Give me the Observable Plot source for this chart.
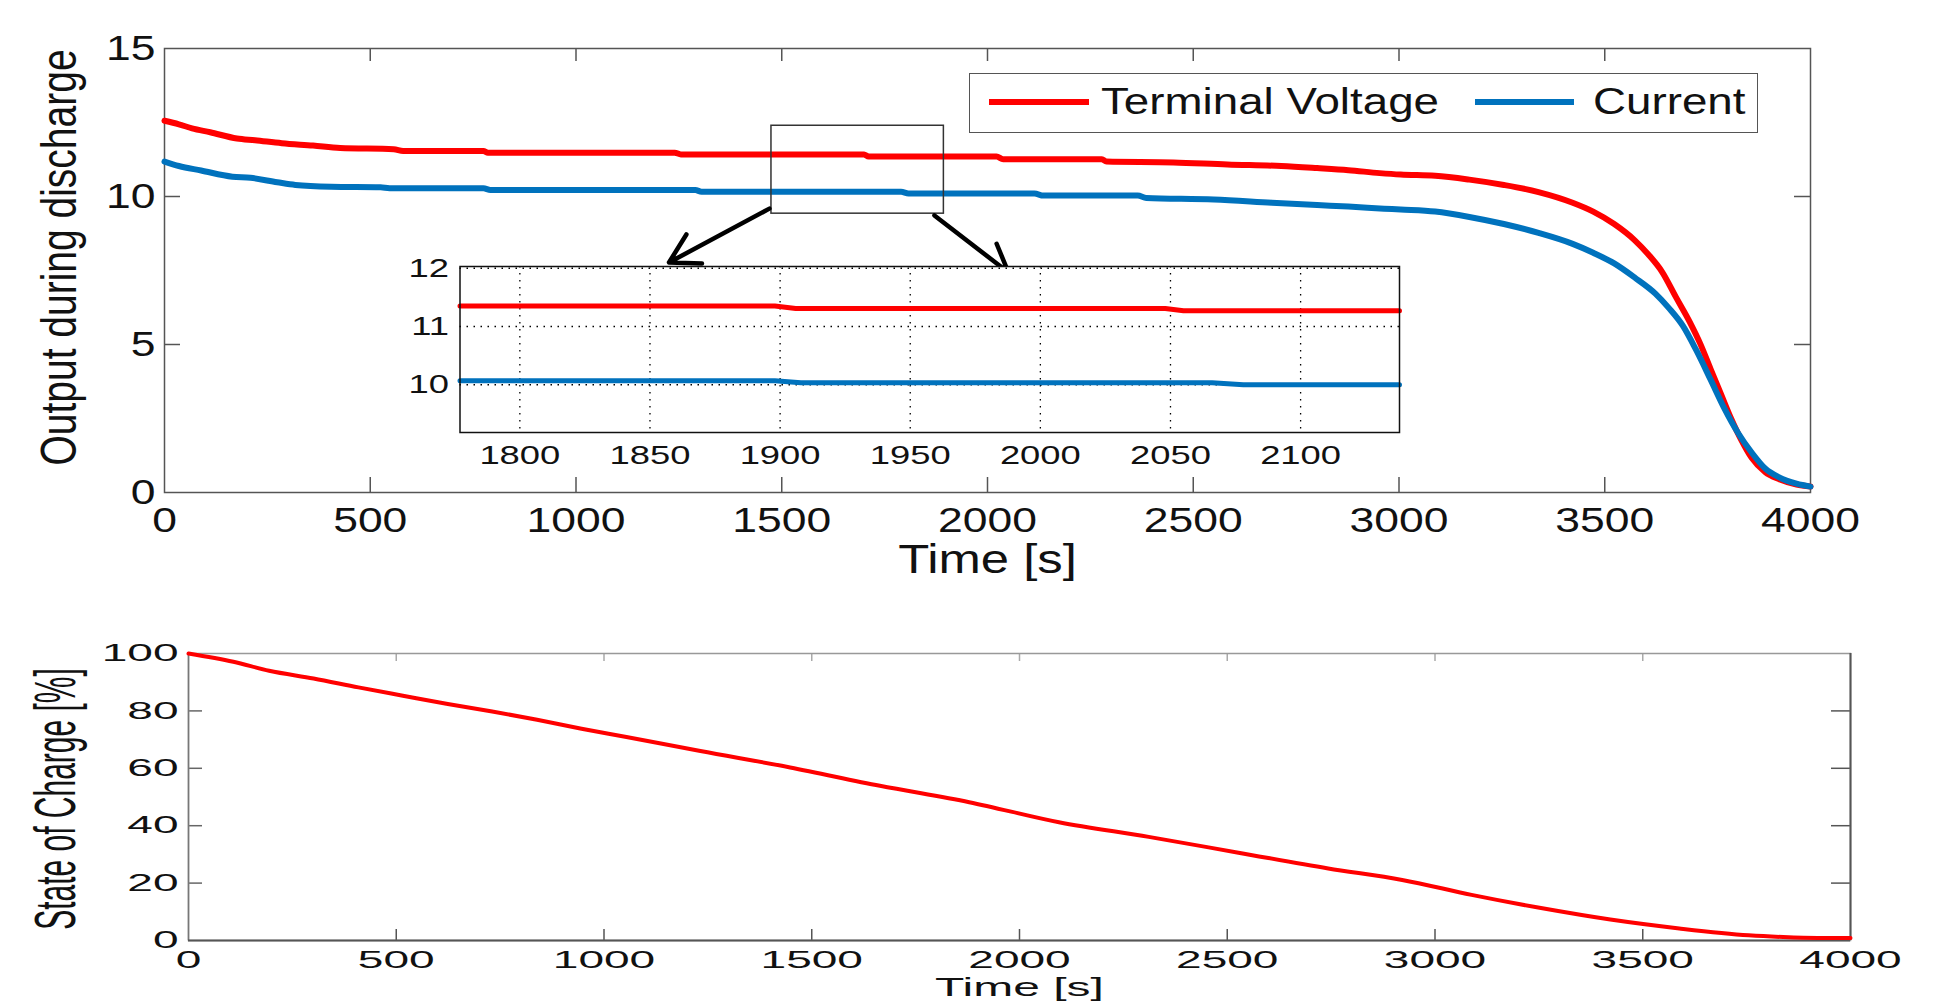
<!DOCTYPE html>
<html><head><meta charset="utf-8">
<script src="https://cdn.jsdelivr.net/npm/d3@7"></script>
<script src="https://cdn.jsdelivr.net/npm/@observablehq/plot@0.6"></script>
<style>
html,body{margin:0;padding:0;background:#fff;}
#root{position:relative;width:1945px;height:1005px;overflow:hidden;background:#fff;font-family:"Liberation Sans",Arial,sans-serif;}
#root svg{position:absolute;}
.lg{position:absolute;}
</style></head><body><div id="root"></div>
<script>
// ---------- data ----------
const voltTime  = [0,35,67,111,176,220,285,361,427,557,580,775,786,1240,1255,1700,1711,2022,2038,2278,2289,2452,2583,2714,2801,2877,2953,3004,3088,3171,3255,3339,3422,3472,3523,3573,3606,3640,3673,3707,3732,3757,3782,3807,3832,3857,3890,3924,3966,4000];
const voltValue = [12.56,12.44,12.30,12.17,11.96,11.90,11.80,11.72,11.64,11.60,11.54,11.54,11.48,11.48,11.42,11.42,11.35,11.35,11.26,11.26,11.18,11.15,11.08,11.03,10.96,10.89,10.79,10.74,10.70,10.57,10.39,10.15,9.79,9.49,9.07,8.52,8.04,7.44,6.60,5.75,5.03,4.18,3.34,2.50,1.77,1.17,0.69,0.45,0.27,0.20];
const currTime  = [0,35,89,165,209,274,318,405,525,547,775,792,1290,1305,1790,1808,2114,2136,2365,2386,2550,2691,2801,2877,2964,3004,3088,3171,3255,3339,3422,3472,3523,3573,3623,3656,3690,3723,3757,3790,3824,3857,3890,3924,3966,4000];
const currValue = [11.18,11.03,10.88,10.67,10.63,10.48,10.39,10.33,10.31,10.28,10.28,10.22,10.22,10.16,10.16,10.10,10.10,10.03,10.03,9.95,9.90,9.79,9.71,9.66,9.59,9.56,9.49,9.31,9.07,8.77,8.40,8.10,7.74,7.26,6.72,6.23,5.63,4.79,3.82,2.86,2.01,1.35,0.81,0.51,0.30,0.20];

const insetVoltTime  = [1777,1898,1906,2048,2055,2138];
const insetVoltValue = [11.35,11.35,11.31,11.31,11.27,11.27];
const insetCurrTime  = [1777,1898,1908,2066,2078,2138];
const insetCurrValue = [10.07,10.07,10.035,10.035,10.0,10.0];

const socTime  = [0,108,194,301,409,516,624,731,839,946,1054,1232,1448,1664,1879,2095,2311,2527,2743,2921,3088,3255,3422,3588,3755,3838,3921,4000];
const socValue = [100,97.1,94.0,91.3,88.2,85.3,82.4,79.8,76.9,73.8,70.9,66.0,60.3,53.9,48.2,41.2,36.1,30.6,25.1,21.1,15.9,11.3,7.3,4.2,1.8,1.2,0.9,0.9];

const timeTicks   = [0,500,1000,1500,2000,2500,3000,3500,4000];
const topYTicks   = [0,5,10,15];
const socYTicks   = [0,20,40,60,80,100];
const insetXTicks = [1800,1850,1900,1950,2000,2050,2100];
const insetYTicks = [10,11,12];

const seriesNames = ["Terminal Voltage","Current"];
const seriesColors = ["#ff0000","#0072bd"];

// zoom box and arrows (data coordinates of the top panel)
const zoomBoxX = [1475,1894];
const zoomBoxY = [9.42,12.39];
const arrowFromX = [1470,1871], arrowFromY = [9.59,9.36];
const arrowToX   = [1226,2051], arrowToY   = [7.77,7.43];

// ---------- helpers ----------
function stretch(svg, s) {
  svg.querySelectorAll("text").forEach(t => {
    const tr = t.getAttribute("transform") || "";
    if (/rotate\(-?90\)/.test(tr)) t.setAttribute("transform", tr + ` scale(1,${s})`);
    else t.setAttribute("transform", tr + ` scale(${s},1)`);
  });
}
const FONT = "Liberation Sans, Arial, sans-serif";
const root = document.getElementById("root");

// ---------- top panel ----------
const volt = voltTime.map((t,i)=>({t, v: voltValue[i]}));
const curr = currTime.map((t,i)=>({t, v: currValue[i]}));
const tk = (px, span, len) => span * px / len; // pixel length -> data length
const topW = 1945, topH = 600, tML = 164, tMR = 135, tMT = 48, tMB = 108;
const tPW = topW - tML - tMR, tPH = topH - tMT - tMB;
const innerX = timeTicks.slice(1,-1), innerY = topYTicks.slice(1,-1);
const arrows = arrowFromX.map((x,i)=>({x1:x,y1:arrowFromY[i],x2:arrowToX[i],y2:arrowToY[i]}));

const topPlot = Plot.plot({
  width: topW, height: topH,
  marginLeft: tML, marginRight: tMR, marginTop: tMT, marginBottom: tMB,
  x: {domain: [0,4000]}, y: {domain: [0,15]},
  style: {fontFamily: FONT, background: "transparent", color: "#111"},
  marks: [
    Plot.ruleX(innerX, {x: d=>d, y1: 0, y2: tk(15,15,tPH), stroke: "#555", strokeWidth: 1.5}),
    Plot.ruleX(innerX, {x: d=>d, y1: 15, y2: 15 - tk(13,15,tPH), stroke: "#555", strokeWidth: 1.5}),
    Plot.ruleY(innerY, {y: d=>d, x1: 0, x2: tk(16,4000,tPW), stroke: "#555", strokeWidth: 1.5}),
    Plot.ruleY(innerY, {y: d=>d, x1: 4000, x2: 4000 - tk(16,4000,tPW), stroke: "#555", strokeWidth: 1.5}),
    Plot.frame({stroke: "#555", strokeWidth: 1.5}),
    Plot.line(volt, {x: "t", y: "v", stroke: seriesColors[0], strokeWidth: 6, curve: "monotone-x"}),
    Plot.line(curr, {x: "t", y: "v", stroke: seriesColors[1], strokeWidth: 6, curve: "monotone-x"}),
    Plot.rect([0], {x1: zoomBoxX[0], x2: zoomBoxX[1], y1: zoomBoxY[0], y2: zoomBoxY[1], fill: "none", stroke: "#333", strokeWidth: 1.5}),
    Plot.arrow(arrows, {x1: "x1", y1: "y1", x2: "x2", y2: "y2", stroke: "#000", strokeWidth: 4.5, headLength: 11, headAngle: 60}),
    Plot.axisX({ticks: timeTicks, tickSize: 0, tickPadding: 15, fontSize: 35, label: null, tickFormat: d=>String(d)}),
    Plot.axisY({ticks: topYTicks, tickSize: 0, tickPadding: 9, fontSize: 35, label: null, tickFormat: d=>String(d)}),
    Plot.text(["Time [s]"], {text: d=>d, frameAnchor: "bottom", textAnchor: "middle", lineAnchor: "top", dy: 52, fontSize: 40, fill: "#111"}),
    Plot.text(["Output during discharge"], {text: d=>d, frameAnchor: "left", textAnchor: "middle", rotate: -90, dx: -104, dy: -13, lineAnchor: "middle", fontSize: 39, fill: "#111"})
  ]
});
topPlot.style.left = "0px"; topPlot.style.top = "0px";
stretch(topPlot, 1.27);
root.appendChild(topPlot);

// ---------- inset ----------
const iVolt = insetVoltTime.map((t,i)=>({t, v: insetVoltValue[i]}));
const iCurr = insetCurrTime.map((t,i)=>({t, v: insetCurrValue[i]}));
const inset = Plot.plot({
  width: 1040, height: 240,
  marginLeft: 79.5, marginRight: 21, marginTop: 16, marginBottom: 58,
  x: {domain: [1777,2138]}, y: {domain: [9.18,12.03]},
  style: {fontFamily: FONT, background: "transparent", color: "#111"},
  marks: [
    Plot.frame({fill: "white", stroke: "none"}),
    Plot.ruleX(insetXTicks, {x: d=>d, stroke: "#000", strokeWidth: 1.3, strokeDasharray: "1.5,5.5"}),
    Plot.ruleY(insetYTicks, {y: d=>d, stroke: "#000", strokeWidth: 1.3, strokeDasharray: "1.5,5.5"}),
    Plot.line(iVolt, {x: "t", y: "v", stroke: seriesColors[0], strokeWidth: 5}),
    Plot.line(iCurr, {x: "t", y: "v", stroke: seriesColors[1], strokeWidth: 5}),
    Plot.frame({stroke: "#111", strokeWidth: 1.5}),
    Plot.axisX({ticks: insetXTicks, tickSize: 0, tickPadding: 13, fontSize: 26, label: null, tickFormat: d=>String(d)}),
    Plot.axisY({ticks: insetYTicks, tickSize: 0, tickPadding: 11, fontSize: 26, label: null, tickFormat: d=>String(d)})
  ]
});
inset.style.left = "380px"; inset.style.top = "250px";
stretch(inset, 1.4);
root.appendChild(inset);

// ---------- legend ----------
function addDiv(style, text) {
  const d = document.createElement("div");
  d.className = "lg";
  Object.assign(d.style, style);
  if (text) d.textContent = text;
  root.appendChild(d);
  return d;
}
addDiv({left: "969px", top: "73px", width: "787px", height: "58px", border: "1.5px solid #555", background: "#fff"});
const lgX = [[989,1089,1101],[1475,1574,1593]];
seriesNames.forEach((name,i) => {
  addDiv({left: lgX[i][0]+"px", top: "99px", width: (lgX[i][1]-lgX[i][0])+"px", height: "6px", background: seriesColors[i]});
  addDiv({left: lgX[i][2]+"px", top: "78px", fontSize: "36px", lineHeight: "48px", color: "#111", transform: "scaleX(1.27)", transformOrigin: "0 0", whiteSpace: "nowrap"}, name);
});

// ---------- bottom panel ----------
const soc = socTime.map((t,i)=>({t, v: socValue[i]}));
const bW = 1945, bH = 405, bML = 188, bMR = 95, bMT = 53, bMB = 65;
const bPW = bW - bML - bMR, bPH = bH - bMT - bMB;
const innerSoc = socYTicks.slice(1,-1);
const bottomPlot = Plot.plot({
  width: bW, height: bH,
  marginLeft: bML, marginRight: bMR, marginTop: bMT, marginBottom: bMB,
  x: {domain: [0,4000]}, y: {domain: [0,100]},
  style: {fontFamily: FONT, background: "transparent", color: "#111"},
  marks: [
    Plot.ruleX(innerX, {x: d=>d, y1: 0, y2: tk(11,100,bPH), stroke: "#555", strokeWidth: 1.5}),
    Plot.ruleX(innerX, {x: d=>d, y1: 100, y2: 100 - tk(8,100,bPH), stroke: "#aaa", strokeWidth: 1.5}),
    Plot.ruleY(innerSoc, {y: d=>d, x1: 0, x2: tk(14,4000,bPW), stroke: "#666", strokeWidth: 1.5}),
    Plot.ruleY(innerSoc, {y: d=>d, x1: 4000, x2: 4000 - tk(19,4000,bPW), stroke: "#555", strokeWidth: 1.5}),
    Plot.frame({stroke: "#999", strokeWidth: 1.5}),
    Plot.ruleX([0], {x: d=>d, stroke: "#777", strokeWidth: 1.5}),
    Plot.ruleX([4000], {x: d=>d, stroke: "#555", strokeWidth: 2}),
    Plot.ruleY([0], {y: d=>d, stroke: "#555", strokeWidth: 2}),
    Plot.line(soc, {x: "t", y: "v", stroke: seriesColors[0], strokeWidth: 4, curve: "monotone-x"}),
    Plot.axisX({ticks: timeTicks, tickSize: 0, tickPadding: 10, fontSize: 24, label: null, tickFormat: d=>String(d)}),
    Plot.axisY({ticks: socYTicks, tickSize: 0, tickPadding: 10, fontSize: 24, label: null, tickFormat: d=>String(d)}),
    Plot.text(["Time [s]"], {text: d=>d, frameAnchor: "bottom", textAnchor: "middle", lineAnchor: "top", dy: 38, fontSize: 25, fill: "#111"}),
    Plot.text(["State of Charge [%]"], {text: d=>d, frameAnchor: "left", textAnchor: "middle", rotate: -90, dx: -132, dy: 2, lineAnchor: "middle", fontSize: 30, fill: "#111"})
  ]
});
bottomPlot.style.left = "0px"; bottomPlot.style.top = "600px";
stretch(bottomPlot, 1.92);
root.appendChild(bottomPlot);
</script>
</body></html>
